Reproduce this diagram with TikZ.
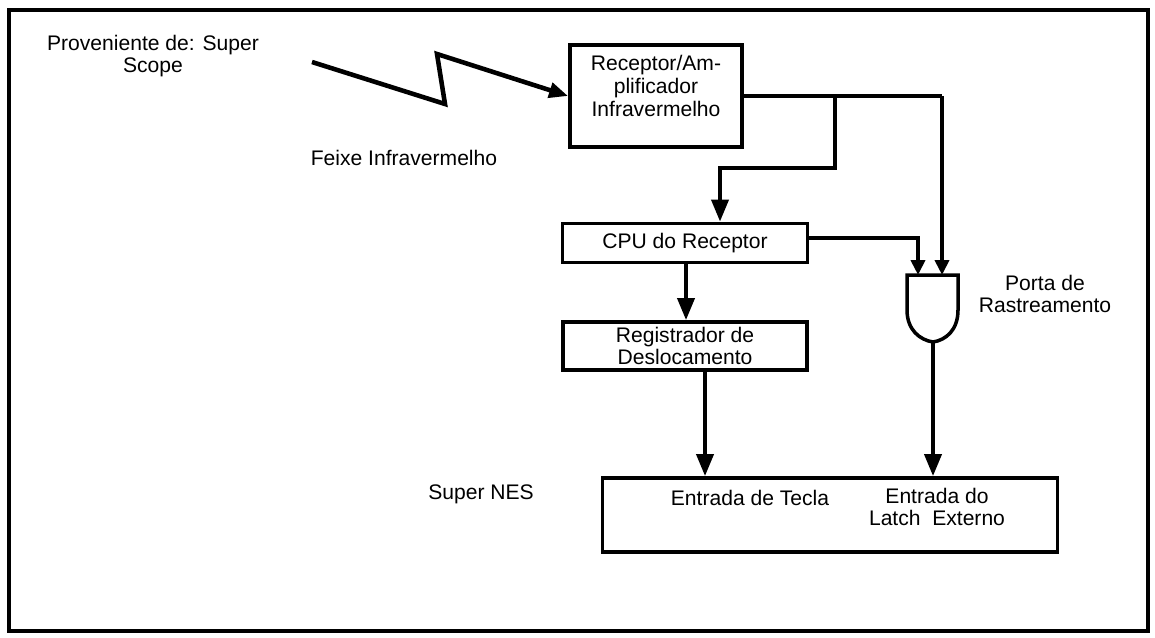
\documentclass[tikz,border=0pt]{standalone}
\usepackage{fontspec}
\setmainfont{Liberation Sans}
\usetikzlibrary{arrows.meta, positioning, calc}
\newcommand{\diagfont}{\fontsize{12}{13}\selectfont}
\tikzset{
    blockbox/.style={
        rectangle,
        draw=black,
        line width=2.2pt,
        inner sep=0pt,
        align=center,
        font=\diagfont
    },
    plaintext/.style={align=center, inner sep=1pt, font=\diagfont},
    sigarrow/.style={line width=2.2pt, -{Triangle[length=4.4mm, width=3.4mm]}},
    gatearrow/.style={line width=2.2pt, -{Triangle[length=3mm, width=2.8mm]}},
    beamarrow/.style={line width=2.6pt, line join=miter, -{Triangle[length=3.8mm, width=3mm]}},
    wire/.style={line width=2.2pt},
    gateshape/.style={line width=2pt, draw=black, fill=white}
}

\begin{document}
\begin{tikzpicture}[x=0.02cm, y=-0.02cm]
    \useasboundingbox (0,0) rectangle (1155,637);
    \draw[line width=1.8pt] (9,10) rectangle (1148,631);

    % blocos
    \node[blockbox, minimum width=3.44cm, minimum height=2.04cm] (rcv) at (656,96) {};
    \node[plaintext, below=0.2cm of rcv.north] (rcvtxt) {Receptor/Am-\\plificador\\Infravermelho};
    \node[blockbox, minimum width=4.9cm, minimum height=0.78cm] (cpu) at (685,243) {CPU do Receptor};
    \node[blockbox, minimum width=4.88cm, minimum height=0.96cm] (reg) at (685,346) {Registrador de\\Deslocamento};
    \node[blockbox, minimum width=9.1cm, minimum height=1.48cm] (snes) at (830,515) {};
    \node[plaintext] (tecla) at (750,498) {Entrada de Tecla};
    \node[plaintext] (latch) at (937,507) {Entrada do\\Latch\ \ Externo};

    % textos soltos
    \node[plaintext] (origem) at (153,56) {Proveniente de: Super\\Scope};
    \node[plaintext] (feixe) at (404,158) {Feixe Infravermelho};
    \node[plaintext] (porta) at (1045,294) {Porta de\\Rastreamento};
    \node[plaintext] (nes) at (481,494) {Super NES};

    % porta de rastreamento
    \coordinate (gatel) at (918,275);
    \coordinate (gater) at (942,275);
    \coordinate (gateout) at (933,342);
    \draw[gateshape] (907,275) -- (958,275) -- (958,310)
        .. controls (958,330) and (946,340) .. (gateout)
        .. controls (920,340) and (907,330) .. (907,310) -- cycle;

    % feixe
    \coordinate (scope) at (312,62);
    \draw[beamarrow] (scope) -- (445,104) -- (437,54) -- (rcv.west);

    % ligacoes
    \coordinate (split) at (835,96);
    \draw[wire] (rcv.east) -- (942,96);
    \draw[gatearrow] (942,96) -- (gater);
    \draw[sigarrow] (split) -- (835,168) -- (720,168) -- (720,0 |- cpu.north);
    \draw[gatearrow] ($(cpu.east)+(0,-5)$) -| (gatel);
    \draw[sigarrow] (cpu.south -| 686,0) -- (reg.north -| 686,0);
    \draw[sigarrow] (reg.south -| 705,0) -- (snes.north -| 705,0);
    \draw[sigarrow] (gateout) -- (gateout |- snes.north);
\end{tikzpicture}
\end{document}
